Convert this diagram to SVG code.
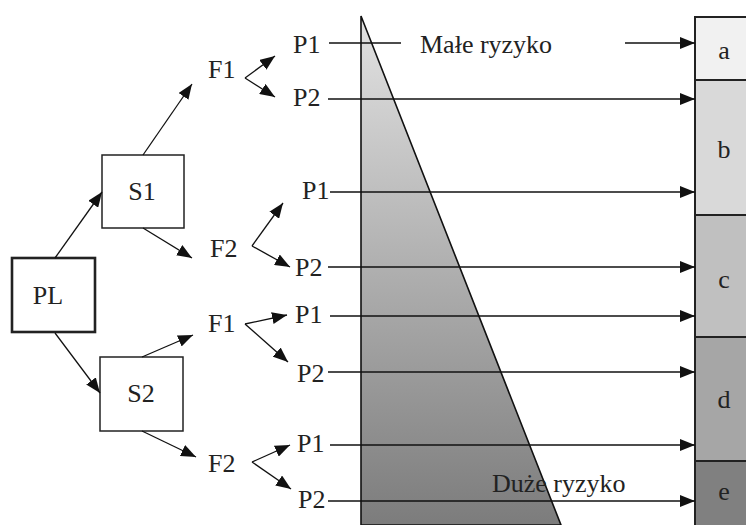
<svg xmlns="http://www.w3.org/2000/svg" width="746" height="525" viewBox="0 0 746 525">
<defs>
<style>
text{font-family:"Liberation Serif","Times New Roman",serif;font-size:26px;fill:#222}
.box{fill:#fff;stroke:#222;stroke-width:1.5}
.c{stroke:#111;stroke-width:1.3;fill:none}
.ca{stroke:#111;stroke-width:1.3;fill:none;marker-end:url(#ah)}
.m{text-anchor:middle}
</style>
<marker id="ah" markerUnits="userSpaceOnUse" markerWidth="16" markerHeight="12" refX="15" refY="6" orient="auto">
<path d="M0,0 L15,6 L0,12 z" fill="#111"/>
</marker>
<linearGradient id="tg" x1="0" y1="0" x2="0" y2="1">
<stop offset="0" stop-color="#e2e2e2"/>
<stop offset="1" stop-color="#7c7c7c"/>
</linearGradient>
</defs>
<g id="triangle">
<polygon points="361,16 561,525 361,525" fill="url(#tg)" stroke="#111" stroke-width="1.6"/>
</g>
<g id="levels">
<g id="level-a"><rect x="695" y="17" width="56" height="63" fill="#f1f1f1" stroke="#222" stroke-width="2"/><text class="m" x="724" y="59">a</text></g>
<g id="level-b"><rect x="695" y="80" width="56" height="135" fill="#d9d9d9" stroke="#222" stroke-width="2"/><text class="m" x="724" y="158">b</text></g>
<g id="level-c"><rect x="695" y="215" width="56" height="122" fill="#c0c0c0" stroke="#222" stroke-width="2"/><text class="m" x="724" y="288">c</text></g>
<g id="level-d"><rect x="695" y="337" width="56" height="124" fill="#a6a6a6" stroke="#222" stroke-width="2"/><text class="m" x="724" y="408">d</text></g>
<g id="level-e"><rect x="695" y="461" width="56" height="70" fill="#808080" stroke="#222" stroke-width="2"/><text class="m" x="724" y="500">e</text></g>
</g>
<g id="PL"><rect x="12" y="258" width="83" height="74" fill="#fff" stroke="#222" stroke-width="2.6"/><text class="m" x="48" y="304">PL</text></g>
<g id="S1"><rect class="box" x="102" y="155" width="82" height="73"/><text class="m" x="142" y="200">S1</text></g>
<g id="S2"><rect class="box" x="100" y="357" width="83" height="74"/><text class="m" x="141" y="402">S2</text></g>
<g id="F1a"><text x="208" y="78">F1</text></g>
<g id="F2a"><text x="210" y="257">F2</text></g>
<g id="F1b"><text x="208" y="332">F1</text></g>
<g id="F2b"><text x="208" y="472">F2</text></g>
<g id="P1a"><text x="293" y="53">P1</text></g>
<g id="P2a"><text x="293" y="106">P2</text></g>
<g id="P1b"><text x="302" y="199">P1</text></g>
<g id="P2b"><text x="295" y="276">P2</text></g>
<g id="P1c"><text x="295" y="323">P1</text></g>
<g id="P2c"><text x="297" y="382">P2</text></g>
<g id="P1d"><text x="297" y="452">P1</text></g>
<g id="P2d"><text x="298" y="508">P2</text></g>
<g id="labels">
<text x="420" y="53">Małe ryzyko</text>
<text x="492" y="492">Duże ryzyko</text>
</g>
<g id="connectors">
<line class="ca" x1="55" y1="258" x2="102" y2="192"/>
<line class="ca" x1="55" y1="333" x2="100" y2="393"/>
<line class="ca" x1="143" y1="155" x2="192" y2="84"/>
<line class="ca" x1="143" y1="228" x2="192" y2="258"/>
<line class="ca" x1="142" y1="357" x2="193" y2="335"/>
<line class="ca" x1="142" y1="431" x2="196" y2="457"/>
<line class="ca" x1="245" y1="78" x2="275" y2="56"/>
<line class="ca" x1="245" y1="78" x2="275" y2="97"/>
<line class="ca" x1="252" y1="246" x2="283" y2="203"/>
<line class="ca" x1="252" y1="246" x2="290" y2="267"/>
<line class="ca" x1="245" y1="324" x2="287" y2="315"/>
<line class="ca" x1="245" y1="324" x2="288" y2="362"/>
<line class="ca" x1="252" y1="462" x2="290" y2="445"/>
<line class="ca" x1="252" y1="462" x2="291" y2="489"/>
<line class="c" x1="329" y1="43" x2="401" y2="43"/>
<line class="ca" x1="625" y1="43" x2="695" y2="43"/>
<line class="ca" x1="328" y1="99" x2="695" y2="99"/>
<line class="ca" x1="330" y1="192" x2="695" y2="192"/>
<line class="ca" x1="328" y1="267" x2="695" y2="267"/>
<line class="ca" x1="330" y1="316" x2="695" y2="316"/>
<line class="ca" x1="328" y1="372" x2="695" y2="372"/>
<line class="ca" x1="330" y1="445" x2="695" y2="445"/>
<line class="ca" x1="328" y1="501" x2="695" y2="501"/>
</g>
</svg>
